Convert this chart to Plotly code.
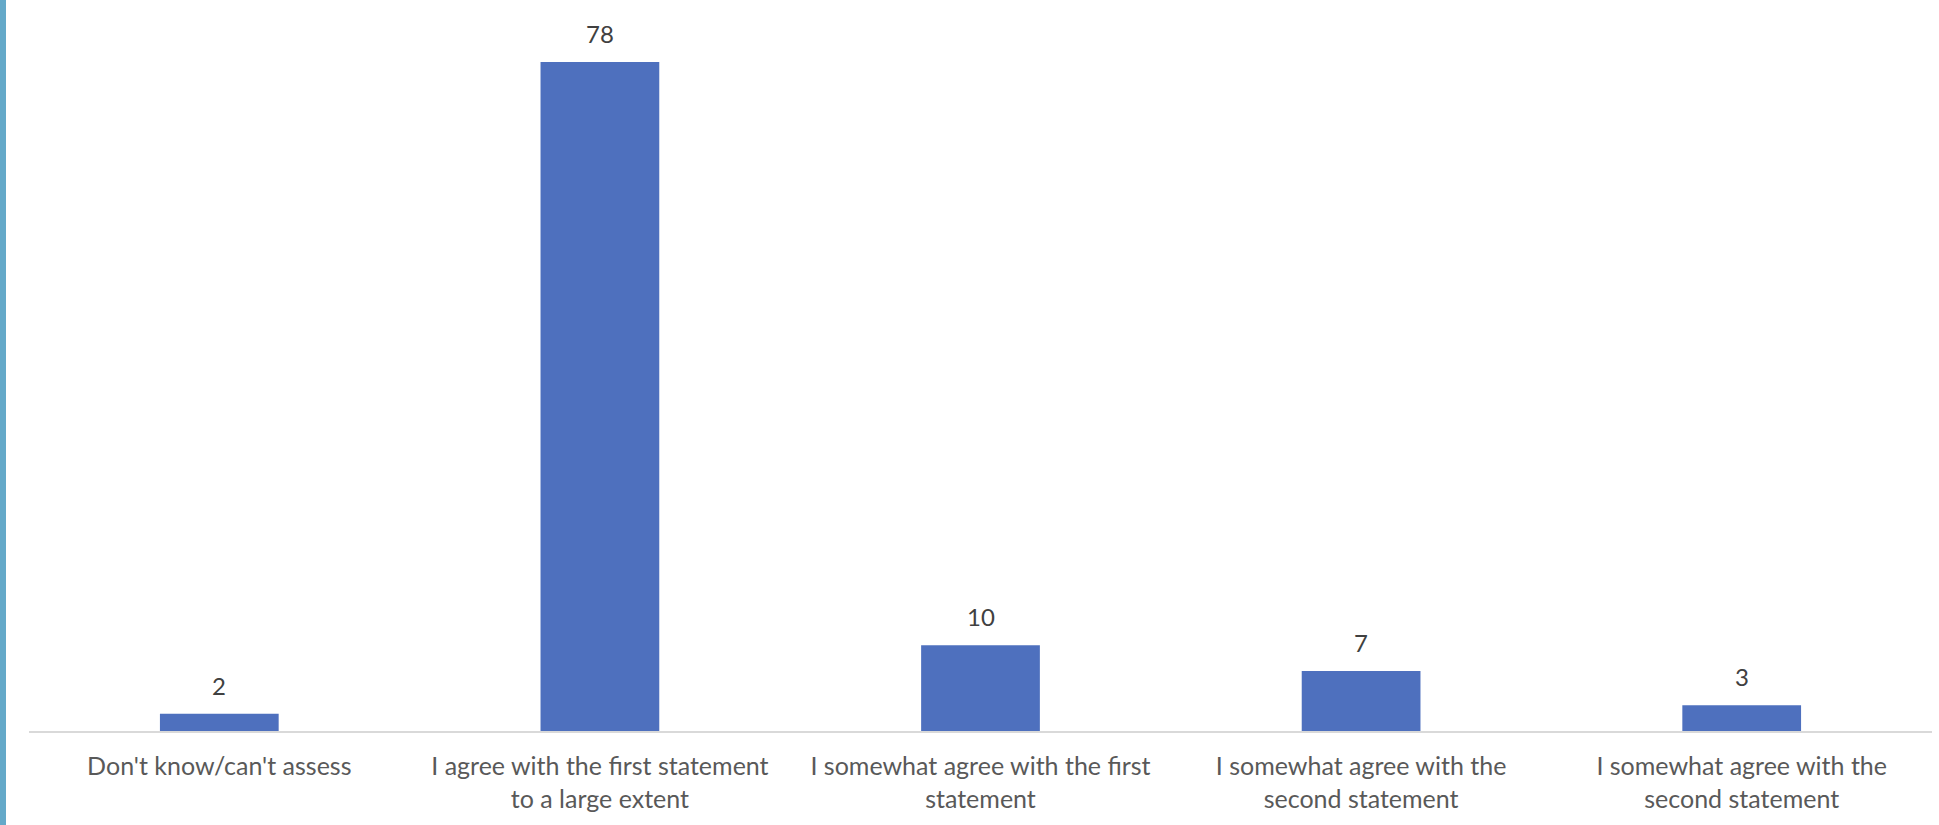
import plotly.graph_objects as go

categories = [
    "Don't know/can't assess",
    "I agree with the first statement<br>to a large extent",
    "I somewhat agree with the first<br>statement",
    "I somewhat agree with the<br>second statement",
    "I somewhat agree with the<br>second statement",
]
values = [2, 78, 10, 7, 3]
positions = list(range(len(categories)))

W, H = 1939, 825
ml, mr, mt, mb = 29, 7, 2, 94
plot_w = W - ml - mr
plot_h = H - mt - mb
FONT = "Lato, Open Sans, sans-serif"

fig = go.Figure(
    go.Bar(
        x=positions,
        y=values,
        width=0.312,
        marker=dict(color="#4E70BE", line=dict(width=0)),
        cliponaxis=False,
        hoverinfo="skip",
    )
)

annotations = [
    dict(
        x=p,
        y=v,
        xref="x",
        yref="y",
        text=str(v),
        showarrow=False,
        yanchor="bottom",
        yshift=12,
        font=dict(family=FONT, size=24, color="#404040"),
    )
    for p, v in zip(positions, values)
]

fig.update_layout(
    width=W,
    height=H,
    autosize=False,
    margin=dict(l=ml, r=mr, t=mt, b=mb, pad=0),
    paper_bgcolor="white",
    plot_bgcolor="white",
    showlegend=False,
    font=dict(family=FONT, size=25, color="#595959"),
    annotations=annotations,
    xaxis=dict(
        range=[-0.5, 4.5],
        tickmode="array",
        tickvals=positions,
        ticktext=categories,
        showline=True,
        linecolor="#D9D9D9",
        linewidth=2,
        ticks="",
        showgrid=False,
        zeroline=False,
        ticklabelstandoff=12,
        tickfont=dict(family=FONT, size=25, color="#595959"),
        fixedrange=True,
    ),
    yaxis=dict(
        range=[0, 85],
        visible=False,
        showgrid=False,
        zeroline=False,
        fixedrange=True,
    ),
    shapes=[
        dict(
            type="rect",
            xref="paper",
            yref="paper",
            x0=-ml / plot_w,
            x1=(6 - ml) / plot_w,
            y0=-mb / plot_h,
            y1=1 + mt / plot_h,
            fillcolor="#64A9C9",
            line=dict(width=0),
            layer="above",
        )
    ],
)

fig.write_html(
    "out.html",
    config={"displayModeBar": False},
    post_script="document.body.style.margin='0';document.body.style.overflow='hidden';",
)
